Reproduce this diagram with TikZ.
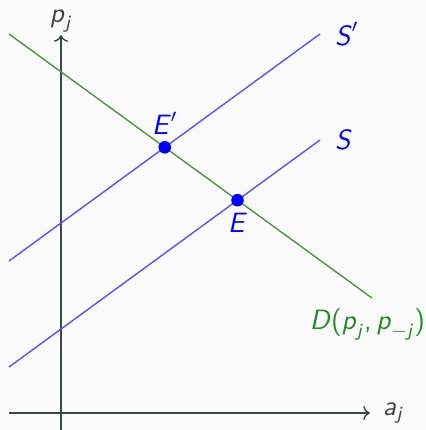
\documentclass[tikz,border=0pt]{standalone}
\usepackage{amsmath}
\usetikzlibrary{arrows.meta,positioning}
\definecolor{bg}{HTML}{FAFAFA}
\definecolor{ink}{HTML}{3A4848}
\definecolor{supply}{HTML}{5555F5}
\definecolor{demand}{HTML}{4A9A3C}
\definecolor{demandtext}{HTML}{1E8C1E}
\newcommand\sv[1]{\textsf{\textit{#1}}}
\tikzset{
  every node/.style={font=\large\sffamily,text=ink},
  axis/.style={->,semithick,draw=ink},
  supplyline/.style={semithick,draw=supply},
  demandline/.style={semithick,draw=demand},
  eqdot/.style={circle,fill=blue,inner sep=0pt,minimum size=5.4pt},
  bluelabel/.style={text=blue},
}
\begin{document}
\begin{tikzpicture}[x=0.43pt,y=-0.43pt]
\fill[bg] (0,0) rectangle (426,430);
\useasboundingbox (0,0) rectangle (426,430);

% axes
\coordinate (o1) at (61,430);
\coordinate (ytop) at (61,35);
\coordinate (o2) at (9,413);
\coordinate (xend) at (370,413);
\draw[axis] (o1) -- (ytop);
\draw[axis] (o2) -- (xend);
\node[above=-2.5pt of ytop] (pj) {$\sv{p}_{\sv{j}}$};
\node[right=2pt of xend] (aj) {$\sv{a}_{\sv{j}}$};

% demand and supply curves
\coordinate (d1) at (9,34);
\coordinate (d2) at (372,298);
\coordinate (sp1) at (9,261);
\coordinate (sp2) at (320,34);
\coordinate (s1) at (9,367);
\coordinate (s2) at (320,140);
\draw[demandline] (d1) -- (d2);
\draw[supplyline] (sp1) -- (sp2);
\draw[supplyline] (s1) -- (s2);
\node[bluelabel,right=3pt of sp2] (Sp) {$\sv{S}'$};
\node[bluelabel,right=3pt of s2] (S) {$\sv{S}$};
\node[text=demandtext,below=1pt of d2,xshift=-2pt] (D) {$\sv{D}\textsf{(}\sv{p}_{\sv{j}}\textsf{,}\,\sv{p}_{-\sv{j}}\textsf{)}$};

% equilibria
\node[eqdot] (Ep) at (intersection of d1--d2 and sp1--sp2) {};
\node[eqdot] (E) at (intersection of d1--d2 and s1--s2) {};
\node[bluelabel,above=-1pt of Ep] {$\sv{E}'$};
\node[bluelabel,below=-1pt of E] {$\sv{E}$};
\end{tikzpicture}
\end{document}
